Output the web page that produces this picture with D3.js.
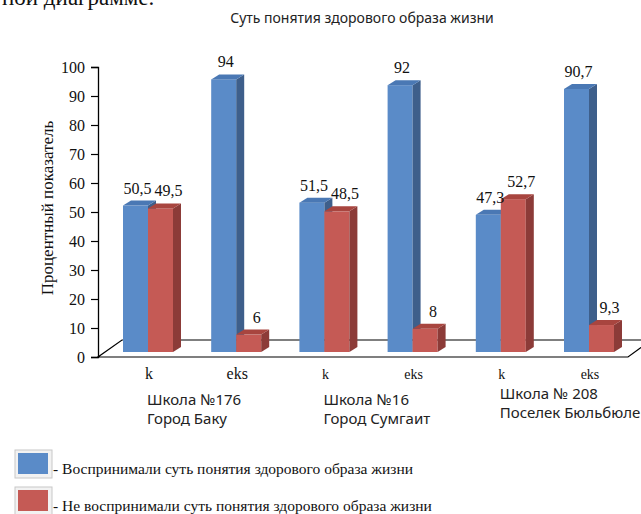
<!DOCTYPE html>
<html lang="ru">
<head>
<meta charset="UTF-8">
<title>Суть понятия здорового образа жизни</title>
<script src="https://d3js.org/d3.v7.min.js"></script>
<style>
  body { margin: 0; background: #fff; }
  svg { display: block; }
</style>
</head>
<body>
<svg id="chart" width="641" height="514"></svg>
<script>
  // chart data
  var categories = ["k", "eks", "k", "eks", "k", "eks"];
  var perceived = [50.5, 94, 51.5, 92, 47.3, 90.7];      // blue
  var notPerceived = [49.5, 6, 48.5, 8, 52.7, 9.3];      // red
  var schools = [
    ["Школа №176", "Город Баку"],
    ["Школа №16", "Город Сумгаит"],
    ["Школа № 208", "Поселек Бюльбюле"]
  ];
  var yTicks = [0, 10, 20, 30, 40, 50, 60, 70, 80, 90, 100];
  var legendLabels = [
    "- Воспринимали суть понятия здорового образа жизни",
    "- Не воспринимали суть понятия здорового образа жизни"
  ];

  var SERIF = "'Liberation Serif', 'DejaVu Serif', serif";
  var SANS = "'Noto Sans', 'Open Sans', sans-serif";

  var svg = d3.select("#chart");

  var blue = { front: "#5a8bc8", side: "#3e5f8b", top: "#4a78b4" };
  var red = { front: "#c55a55", side: "#8c3b38", top: "#a8453f" };

  // scales
  var y = d3.scaleLinear().domain([0, 100]).range([357, 67]);
  var x = d3.scalePoint().domain(d3.range(categories.length)).range([148, 589]);
  var barW = 25, dx = 8, dy = 5, lift = 5;

  function serifText(g, size) {
    return g.append("text")
      .style("font-family", SERIF)
      .style("font-size", size + "px")
      .attr("fill", "#111");
  }

  // piece of page text cut at the top
  serifText(svg, 23)
    .attr("x", 2).attr("y", 5)
    .text("ной диаграмме.");

  // title
  svg.append("text")
    .attr("x", 362).attr("y", 23)
    .attr("text-anchor", "middle")
    .style("font-family", SANS)
    .style("font-size", "14px")
    .attr("fill", "#222")
    .text("Суть понятия здорового образа жизни");

  // floor
  svg.append("path")
    .attr("d", "M98,357 L628,357 L651,340 L122,340 Z")
    .attr("fill", "#fff")
    .attr("stroke", "#000")
    .attr("stroke-width", 1.2);

  // y axis
  var axis = svg.append("g")
    .attr("transform", "translate(98,0)")
    .call(d3.axisLeft(y).tickValues(yTicks).tickSize(7).tickPadding(6).tickFormat(d3.format("d")));
  axis.select(".domain").attr("stroke", "#000").attr("stroke-width", 1.3);
  axis.selectAll(".tick line").attr("stroke", "#000").attr("stroke-width", 1.2);
  axis.selectAll(".tick text")
    .style("font-family", SERIF)
    .style("font-size", "16px")
    .attr("fill", "#111");

  serifText(svg, 17)
    .attr("transform", "translate(53,208) rotate(-90)")
    .attr("text-anchor", "middle")
    .text("Процентный показатель");

  // 3D bars
  function bar(g, x0, v, c) {
    var top = y(v) - lift, base = y(0) - lift;
    g.append("rect")
      .attr("x", x0).attr("y", top)
      .attr("width", barW).attr("height", base - top)
      .attr("fill", c.front);
    g.append("path")
      .attr("d", "M" + (x0 + barW) + "," + top + " L" + (x0 + barW + dx) + "," + (top - dy) +
        " L" + (x0 + barW + dx) + "," + (base - dy) + " L" + (x0 + barW) + "," + base + " Z")
      .attr("fill", c.side);
    g.append("path")
      .attr("d", "M" + x0 + "," + top + " L" + (x0 + dx) + "," + (top - dy) +
        " L" + (x0 + barW + dx) + "," + (top - dy) + " L" + (x0 + barW) + "," + top + " Z")
      .attr("fill", c.top);
  }

  function fmt(v) { return String(v).replace(".", ","); }

  var bars = svg.append("g");
  var labels = svg.append("g");
  categories.forEach(function (cat, i) {
    var cx = x(i);
    bar(bars, cx - barW, perceived[i], blue);
    bar(bars, cx, notPerceived[i], red);
    serifText(labels, 16)
      .attr("x", cx - barW / 2 + 2).attr("y", y(perceived[i]) - lift - 12)
      .attr("text-anchor", "middle")
      .text(fmt(perceived[i]));
    serifText(labels, 16)
      .attr("x", cx + barW / 2 + 8).attr("y", y(notPerceived[i]) - lift - 12)
      .attr("text-anchor", "middle")
      .text(fmt(notPerceived[i]));
    serifText(labels, i < 2 ? 16 : 14)
      .attr("x", cx + 1).attr("y", 379)
      .attr("text-anchor", "middle")
      .text(cat);
  });

  // school names under the pairs
  schools.forEach(function (s, j) {
    var t = svg.append("text")
      .attr("x", x(j * 2) - 1).attr("y", j === 2 ? 399 : 405)
      .style("font-family", SANS)
      .style("font-size", "15px")
      .attr("fill", "#222");
    t.append("tspan").text(s[0]);
    t.append("tspan").attr("x", x(j * 2) - 1).attr("dy", 19).text(s[1]);
  });

  // legend
  var legend = svg.append("g");
  [blue, red].forEach(function (c, i) {
    var ly = 451 + i * 37;
    legend.append("rect")
      .attr("x", 15).attr("y", ly - 1)
      .attr("width", 37).attr("height", 28)
      .attr("fill", "#f2f2f2")
      .attr("stroke", "#c8c8c8");
    legend.append("rect")
      .attr("x", 18).attr("y", ly + 2)
      .attr("width", 30).attr("height", 21)
      .attr("fill", c.front);
    serifText(legend, 15.5)
      .attr("x", 53).attr("y", ly + 23)
      .text(legendLabels[i]);
  });
</script>
</body>
</html>
